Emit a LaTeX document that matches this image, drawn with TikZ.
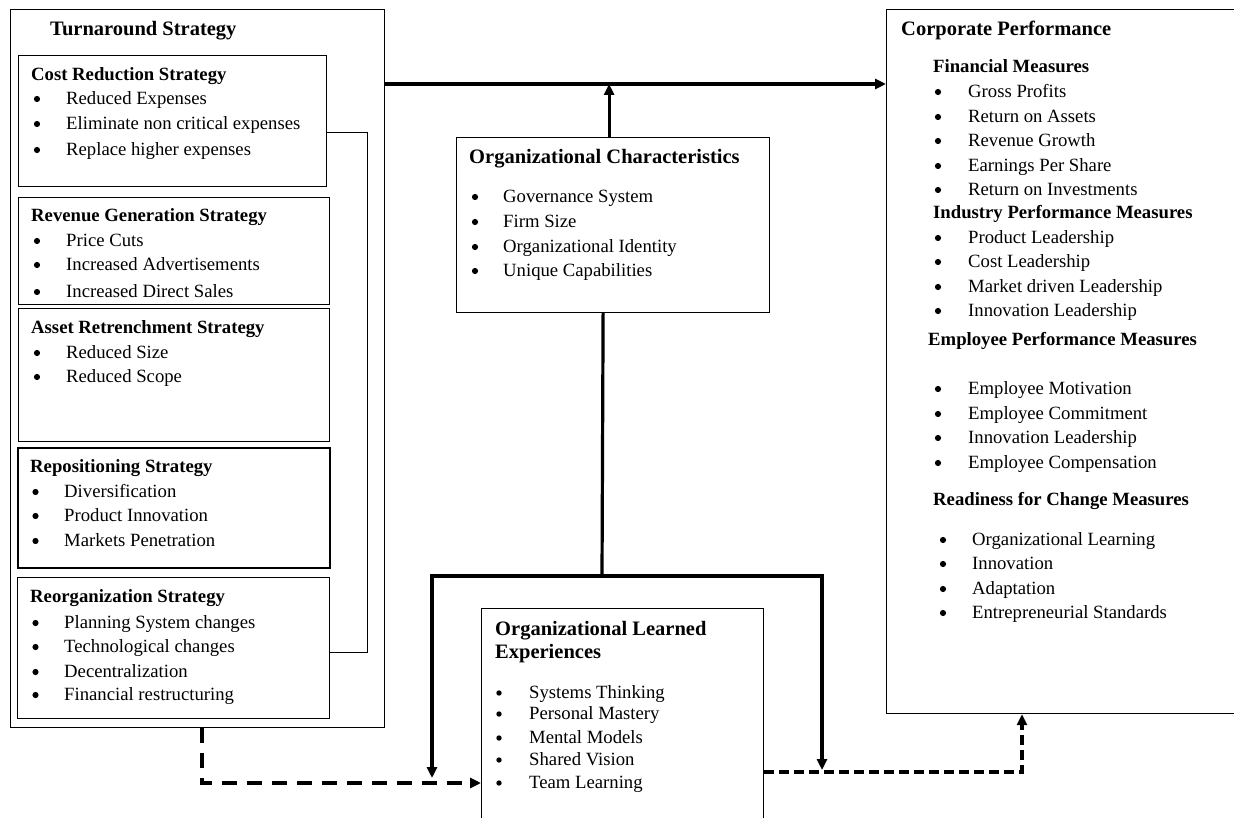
\documentclass[tikz,border=0pt]{standalone}
\usepackage{fontspec}
\setmainfont{Liberation Serif}
\usetikzlibrary{arrows.meta}
\usetikzlibrary{positioning}

\newcommand{\bodyfont}{\fontsize{18.7}{22}\selectfont}
\newcommand{\subfont}{\fontsize{18.7}{22}\selectfont\bfseries}
\newcommand{\titlefont}{\fontsize{20.5}{24}\selectfont\bfseries}

\begin{document}
\begin{tikzpicture}[x=1pt, y=-1pt,
  box/.style={draw, line width=1.2pt, anchor=north west, inner sep=0pt},
  heavybox/.style={box, line width=2.2pt},
  title/.style={anchor=base west, inner sep=0pt, font=\titlefont, yshift=-6.8pt},
  head/.style={anchor=base west, inner sep=0pt, font=\subfont, yshift=-6.2pt},
  item/.style={anchor=base west, inner sep=0pt, font=\bodyfont, yshift=-6.2pt},
  dot/.style={radius=3.1pt},
  link/.style={line width=3.2pt},
  arrow/.style={line width=3.2pt, -{Triangle[length=11pt,width=10pt]}},
  dasharrow/.style={line width=3.4pt, dash pattern=on 15pt off 10pt, -{Triangle[length=11pt,width=10pt]}},
  dashsmall/.style={line width=3.4pt, dash pattern=on 10pt off 5pt, -{Triangle[length=11pt,width=10pt]}}]
\useasboundingbox (0,0) rectangle (1234,818);
\clip (0,0) rectangle (1234,818);

% turnaround strategy
\node [box, minimum width=374pt, minimum height=718pt] (turn) at (10,9) {};
\node [title] (turntitle) at (50,29) {Turnaround Strategy};

\node [box, minimum width=308pt, minimum height=131pt] (cost) at (18,55) {};
\node [head] (costtitle) at (31,74) {Cost Reduction Strategy};
\foreach \y/\t [count=\i] in {98/Reduced Expenses, 123/Eliminate non critical expenses, 149/Replace higher expenses}
  {\fill [dot] (37,\y+1) circle; \node [item] (cost\i) at (66,\y) {\t};}

\node [box, minimum width=311pt, minimum height=107pt] (rev) at (18,197) {};
\node [head] (revtitle) at (31,215) {Revenue Generation Strategy};
\foreach \y/\t [count=\i] in {240/Price Cuts, 264/Increased Advertisements, 291/Increased Direct Sales}
  {\fill [dot] (37,\y+1) circle; \node [item] (rev\i) at (66,\y) {\t};}

\node [box, minimum width=311pt, minimum height=133pt] (asset) at (18,308) {};
\node [head] (assettitle) at (31,327) {Asset Retrenchment Strategy};
\foreach \y/\t [count=\i] in {352/Reduced Size, 376/Reduced Scope}
  {\fill [dot] (37,\y+1) circle; \node [item] (asset\i) at (66,\y) {\t};}

\node [heavybox, minimum width=312pt, minimum height=120pt] (repos) at (17,447) {};
\node [head] (repostitle) at (30,466) {Repositioning Strategy};
\foreach \y/\t [count=\i] in {491/Diversification, 515/Product Innovation, 540/Markets Penetration}
  {\fill [dot] (35.5,\y+1) circle; \node [item] (repos\i) at (64,\y) {\t};}

\node [box, minimum width=312pt, minimum height=141pt] (reorg) at (17,577) {};
\node [head] (reorgtitle) at (30,596) {Reorganization Strategy};
\foreach \y/\t [count=\i] in {622/Planning System changes, 646/Technological changes, 671/Decentralization, 694/Financial restructuring}
  {\fill [dot] (35.5,\y+1) circle; \node [item] (reorg\i) at (64,\y) {\t};}

% organizational characteristics
\node [box, minimum width=313pt, minimum height=175pt] (oc) at (456,137) {};
\node [title] (octitle) at (469,157) {Organizational Characteristics};
\foreach \y/\t [count=\i] in {196/Governance System, 221/Firm Size, 246/Organizational Identity, 270/Unique Capabilities}
  {\fill [dot] (475,\y+1) circle; \node [item] (oc\i) at (503,\y) {\t};}

% organizational learned experiences
\node [box, minimum width=282pt, minimum height=240pt] (ole) at (481,608) {};
\node [title] (oletitle) at (495,629) {Organizational Learned};
\node [title] (oletitleb) at (495,652) {Experiences};
\foreach \y/\t [count=\i] in {692/Systems Thinking, 713/Personal Mastery, 737/Mental Models, 759/Shared Vision, 782/Team Learning}
  {\fill [dot, radius=2.7pt] (499,\y+1) circle; \node [item] (ole\i) at (529,\y) {\t};}

% corporate performance
\node [box, minimum width=370pt, minimum height=704pt] (corp) at (886,9) {};
\node [title] (corptitle) at (901,29) {Corporate Performance};
\node [head] (fin) at (933,66) {Financial Measures};
\foreach \y/\t [count=\i] in {91/Gross Profits, 116/Return on Assets, 140/Revenue Growth, 165/Earnings Per Share, 189/Return on Investments}
  {\fill [dot] (938,\y+1) circle; \node [item] (fin\i) at (968,\y) {\t};}
\node [head] (ind) at (933,212) {Industry Performance Measures};
\foreach \y/\t [count=\i] in {237/Product Leadership, 261/Cost Leadership, 286/Market driven Leadership, 310/Innovation Leadership}
  {\fill [dot] (938,\y+1) circle; \node [item] (ind\i) at (968,\y) {\t};}
\node [head] (emp) at (928,339) {Employee Performance Measures};
\foreach \y/\t [count=\i] in {388/Employee Motivation, 413/Employee Commitment, 437/Innovation Leadership, 462/Employee Compensation}
  {\fill [dot] (938,\y+1) circle; \node [item] (emp\i) at (968,\y) {\t};}
\node [head] (ready) at (933,499) {Readiness for Change Measures};
\foreach \y/\t [count=\i] in {539/Organizational Learning, 563/Innovation, 588/Adaptation, 612/Entrepreneurial Standards}
  {\fill [dot] (943,\y+1) circle; \node [item] (ready\i) at (972,\y) {\t};}

% connectors
\coordinate (topline) at (0,84);
\coordinate (bracketT) at (367,133);
\coordinate (bracketB) at (367,652);
\coordinate (tee) at (602,576);
\coordinate (dropL) at (432,778);
\coordinate (dropR) at (822,770);
\coordinate (dashL) at (202,783);
\coordinate (dashR) at (1022,772);

\draw [line width=1pt] (cost.east |- bracketT) -- (bracketT) -- (bracketB) -- (reorg.east |- bracketB);
\draw [arrow] (turn.east |- topline) -- (corp.west |- topline);
\draw [arrow] ([xshift=-4pt]oc.north) -- ([xshift=-4pt]oc.north |- topline);
\draw [link] ([xshift=-10pt]oc.south) -- (tee);
\draw [arrow] (tee) -| (dropL);
\draw [arrow] (tee) -| (dropR);
\draw [dasharrow] (dashL |- turn.south) |- (ole.west |- dashL);
\draw [dashsmall] (ole.east |- dashR) -| (dashR |- corp.south);
\end{tikzpicture}
\end{document}
